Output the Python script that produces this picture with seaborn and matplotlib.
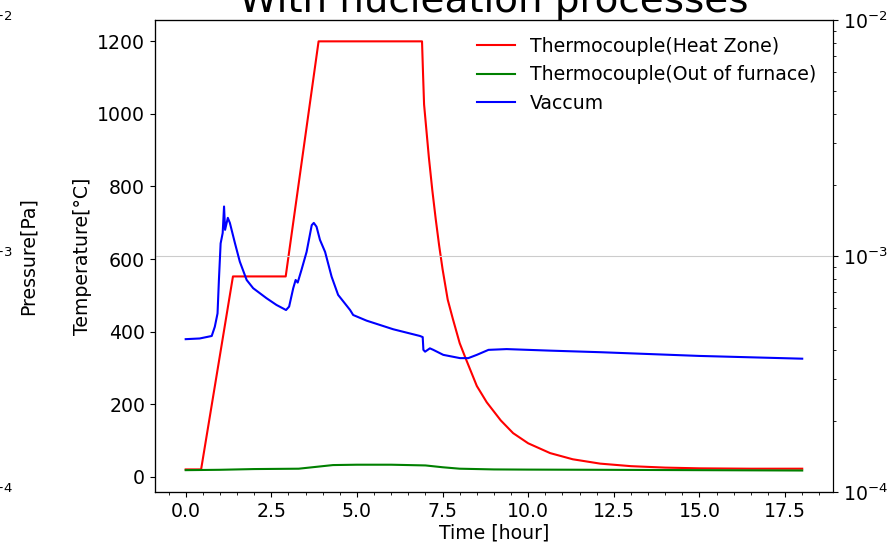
import matplotlib
matplotlib.use("Agg")
import matplotlib.pyplot as plt
from matplotlib.ticker import AutoMinorLocator
import seaborn as sns
import pandas as pd

# === Data ===
# heat zone thermocouple [hour, degC]
heat_t = [0.0, 0.45, 1.38, 2.92, 3.88, 6.90, 6.93, 6.96, 7.10, 7.20, 7.30, 7.40,
          7.50, 7.65, 7.80, 8.00, 8.17, 8.50, 8.79, 9.20, 9.56, 10.0, 10.64,
          11.3, 12.1, 13.0, 14.0, 15.0, 16.5, 18.0]
heat_T = [20, 20, 552, 552, 1200, 1200, 1110, 1026, 880, 790, 710, 637,
          572, 488, 435, 368, 327, 250, 205, 155, 120, 92, 65,
          48, 36, 29, 25, 23, 22, 22]

# thermocouple outside furnace
out_t = [0.0, 1.0, 2.0, 3.3, 3.8, 4.3, 5.0, 6.0, 7.0, 7.5, 8.0, 9.0, 10.0,
         12.0, 15.0, 18.0]
out_T = [18, 19, 21, 22, 27, 32, 33, 33, 31, 26, 22, 20, 19.5,
         19, 18, 17]

# vacuum [hour, Pa]
vac_t = [0.0, 0.41, 0.76, 0.85, 0.93, 0.97, 1.02, 1.08, 1.12, 1.15, 1.23, 1.29,
         1.44, 1.58, 1.78, 1.97, 2.36, 2.65, 2.93, 3.02, 3.14, 3.21, 3.27, 3.38,
         3.53, 3.68, 3.74, 3.82, 3.92, 4.07, 4.26, 4.45, 4.80, 4.89, 5.28, 6.06,
         6.84, 6.92, 6.94, 6.99, 7.13, 7.23, 7.52, 8.01, 8.25, 8.50, 8.84, 9.37,
         10.64, 12.1, 15.0, 18.0]
vac_p = [4.44e-4, 4.47e-4, 4.58e-4, 5.01e-4, 5.71e-4, 7.91e-4, 1.13e-3, 1.25e-3,
         1.62e-3, 1.29e-3, 1.45e-3, 1.38e-3, 1.13e-3, 9.46e-4, 7.91e-4, 7.30e-4,
         6.62e-4, 6.20e-4, 5.90e-4, 6.10e-4, 7.30e-4, 7.91e-4, 7.71e-4, 8.72e-4,
         1.04e-3, 1.35e-3, 1.38e-3, 1.33e-3, 1.17e-3, 1.04e-3, 8.17e-4, 6.84e-4,
         5.90e-4, 5.62e-4, 5.32e-4, 4.89e-4, 4.58e-4, 4.53e-4, 4.00e-4, 3.93e-4,
         4.06e-4, 4.00e-4, 3.81e-4, 3.69e-4, 3.69e-4, 3.81e-4, 4.00e-4, 4.03e-4,
         3.97e-4, 3.91e-4, 3.77e-4, 3.67e-4]

heat = pd.DataFrame({"t": heat_t, "T": heat_T})
outside = pd.DataFrame({"t": out_t, "T": out_T})
vac = pd.DataFrame({"t": vac_t, "p": vac_p})

fs = 13.6
plt.rcParams["font.size"] = fs

fig = plt.figure(figsize=(8.9, 5.42), dpi=100)
ax = fig.add_axes([0.174, 0.0923, 0.762, 0.871])

sns.lineplot(data=heat, x="t", y="T", ax=ax, color="red", lw=1.5,
             sort=False, estimator=None, label="Thermocouple(Heat Zone)", legend=False)
sns.lineplot(data=outside, x="t", y="T", ax=ax, color="green", lw=1.5,
             sort=False, estimator=None, label="Thermocouple(Out of furnace)", legend=False)
ax.set_xlabel("Time [hour]", fontsize=fs, labelpad=2)
ax.set_ylabel("Temperature[°C]", fontsize=fs)
ax.tick_params(labelsize=fs)
ax.xaxis.set_minor_locator(AutoMinorLocator())
ax.set_title("With nucleation processes", fontsize=28)

# vacuum on log axis (right)
ax2 = ax.twinx()
sns.lineplot(data=vac, x="t", y="p", ax=ax2, color="blue", lw=1.5,
             sort=False, estimator=None, label="Vaccum", legend=False)
ax2.set_yscale("log")
ax2.set_ylim(1e-4, 1e-2)
ax2.set_ylabel("")
ax2.grid(True, which="major", axis="y", color="#cccccc")
ax2.tick_params(labelsize=fs)

# extra pressure axis pushed out to the left
ax3 = ax.twinx()
ax3.set_yscale("log")
ax3.set_ylim(1e-4, 1e-2)
ax3.spines["right"].set_position(("axes", -0.290))
ax3.set_ylabel("Pressure[Pa]", fontsize=fs)
ax3.tick_params(labelsize=fs)

h1, l1 = ax.get_legend_handles_labels()
h2, l2 = ax2.get_legend_handles_labels()
ax2.legend(h1 + h2, l1 + l2, loc="upper right", frameon=False, fontsize=fs)

fig.savefig("out.png", dpi=100)
